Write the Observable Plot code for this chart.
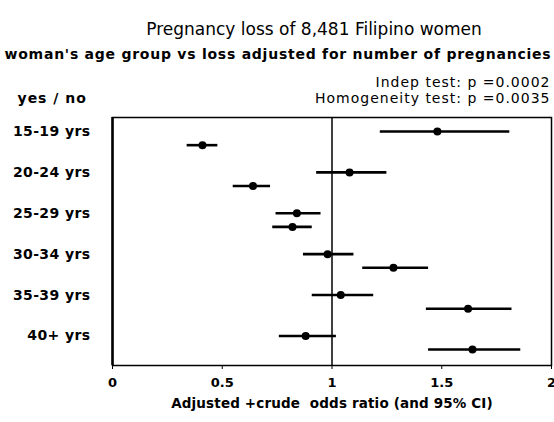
<!DOCTYPE html>
<html>
<head>
<meta charset="utf-8">
<script src="https://cdn.jsdelivr.net/npm/d3@7"></script>
<script src="https://cdn.jsdelivr.net/npm/@observablehq/plot@0.6"></script>
<style>
  body { margin: 0; background: #fff; font-family: "DejaVu Sans", sans-serif; color: #000; }
  #head { position: relative; height: 66px; width: 554px; }
  #title { position: absolute; top: 19px; left: 74px; width: 480px; text-align: center; font-size: 17px; white-space: nowrap; }
  #subtitle { position: absolute; top: 46px; left: 0; width: 556px; text-align: center; font-size: 14px; font-weight: bold; letter-spacing: 0.75px; white-space: nowrap; }
</style>
</head>
<body>
<div id="head">
  <div id="title">Pregnancy loss of 8,481 Filipino women</div>
  <div id="subtitle">woman's age group vs loss adjusted for number of pregnancies</div>
</div>
<div id="chart"></div>
<script>
// Age groups, one per pair of rows
const ageGroups = ["15-19 yrs", "20-24 yrs", "25-29 yrs", "30-34 yrs", "35-39 yrs", "40+ yrs"];

// Upper row of each group: odds ratio with 95% CI
const upperOR = [1.48, 1.08, 0.84, 0.98, 1.04, 0.88];
const upperLo = [1.22, 0.93, 0.745, 0.87, 0.91, 0.76];
const upperHi = [1.81, 1.25, 0.95, 1.10, 1.19, 1.02];

// Lower row of each group: odds ratio with 95% CI
const lowerOR = [0.41, 0.64, 0.82, 1.28, 1.62, 1.64];
const lowerLo = [0.34, 0.55, 0.73, 1.14, 1.43, 1.44];
const lowerHi = [0.48, 0.72, 0.91, 1.44, 1.82, 1.86];

const xTicks = [0, 0.5, 1, 1.5, 2];
const testLines = ["Indep test: p =0.0002", "Homogeneity test: p =0.0035"];

// Each group takes three row slots: upper, lower, and a blank spacer
const rows = ageGroups.flatMap((g, i) => [
  {group: g, slot: 3 * i, or: upperOR[i], lo: upperLo[i], hi: upperHi[i]},
  {group: g, slot: 3 * i + 1, or: lowerOR[i], lo: lowerLo[i], hi: lowerHi[i]}
]);

const font = "DejaVu Sans, sans-serif";

const chart = Plot.plot({
  width: 554,
  height: 356,
  marginTop: 51,
  marginBottom: 57,
  marginLeft: 112,
  marginRight: 3,
  style: {fontFamily: font, fontSize: "12px", color: "#000", background: "#fff"},
  x: {domain: [0, 2]},
  y: {domain: [-1.03, 17.17], reverse: true},
  marks: [
    Plot.ruleX([1], {stroke: "#000", strokeWidth: 1.5}),
    Plot.frame({stroke: "#000", strokeWidth: 1.5}),
    Plot.ruleX([0], {stroke: "#000", strokeWidth: 2.5}),
    Plot.axisX({
      ticks: xTicks, tickSize: 4, tickPadding: 8, tickFormat: d => String(d),
      fontSize: 13, fontWeight: "bold", label: null
    }),
    Plot.axisY({
      ticks: ageGroups.map((g, i) => 3 * i), tickSize: 0, tickPadding: 22,
      tickFormat: s => ageGroups[s / 3], fontSize: 14, fontWeight: "bold", label: null
    }),
    Plot.ruleY(rows, {y: "slot", x1: "lo", x2: "hi", stroke: "#000", strokeWidth: 2.6}),
    Plot.dot(rows, {x: "or", y: "slot", r: 4, fill: "#000", stroke: null}),
    Plot.text([testLines[0]], {frameAnchor: "top-right", dx: -1, dy: -40, text: d => d, fontSize: 14, textAnchor: "end", className: "test"}),
    Plot.text([testLines[1]], {frameAnchor: "top-right", dx: -1, dy: -24, text: d => d, fontSize: 14, textAnchor: "end", className: "test"}),
    Plot.text(["yes / no"], {frameAnchor: "top-left", dx: -95, dy: -24, text: d => d, fontSize: 14, fontWeight: "bold", textAnchor: "start", className: "test"}),
    Plot.text(["Adjusted +crude  odds ratio (and 95% CI)"], {frameAnchor: "bottom", dy: 42, text: d => d, fontSize: 13.5, fontWeight: "bold", className: "xtitle"})
  ]
});

// keep the double space in the axis title, and widen letter spacing like the header
chart.querySelectorAll("text").forEach(t => t.setAttribute("xml:space", "preserve"));
chart.style.whiteSpace = "pre";
chart.querySelectorAll("g[aria-label='y-axis tick label'] text").forEach(t => t.setAttribute("letter-spacing", "0.4"));
chart.querySelectorAll(".test text").forEach(t => t.setAttribute("letter-spacing", "1"));
chart.querySelectorAll(".xtitle text").forEach(t => t.setAttribute("letter-spacing", "0.15"));
document.getElementById("chart").appendChild(chart);
</script>
</body>
</html>
